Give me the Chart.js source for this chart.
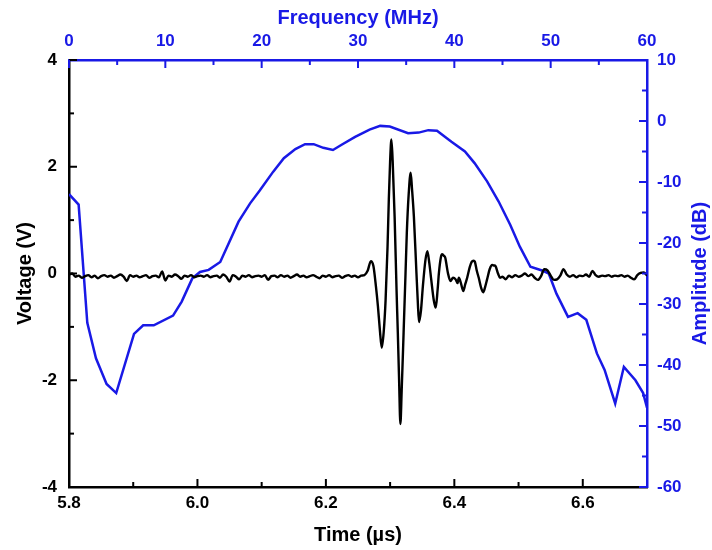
<!DOCTYPE html>
<html>
<head>
<meta charset="utf-8">
<script src="https://cdn.jsdelivr.net/npm/chart.js@4.4.1/dist/chart.umd.min.js"></script>
<style>
  html, body { margin: 0; padding: 0; background: #fff; }
  #wrap { width: 712px; height: 550px; position: relative; }
</style>
</head>
<body>
<div id="wrap"><canvas id="c"></canvas></div>
<script>
// ---------- DATA ----------
// Time-domain waveform (black): time in µs, voltage in V
const baselineTime = [
  5.800,5.805,5.810,5.815,5.820,5.825,5.830,5.835,5.840,5.845,
  5.850,5.855,5.860,5.865,5.870,5.875,5.880,5.885,5.890,5.895,
  5.900,5.905,5.910,5.915,5.920,5.925,5.930,5.935,5.940,5.945,
  5.950,5.955,5.960,5.965,5.970,5.975,5.980,5.985,5.990,5.995,
  6.000,6.005,6.010,6.015,6.020,6.025,6.030,6.035,6.040,6.045,
  6.050,6.055,6.060,6.065,6.070,6.075,6.080,6.085,6.090,6.095,
  6.100,6.105,6.110,6.115,6.120,6.125,6.130,6.135,6.140,6.145,
  6.150,6.155,6.160,6.165,6.170,6.175,6.180,6.185,6.190,6.195,
  6.200,6.205,6.210,6.215,6.220,6.225,6.230,6.235,6.240,6.245,
  6.250,6.255,6.260
];
const baselineVolt = [
  -0.02,0.00,-0.06,-0.04,-0.08,-0.05,-0.03,-0.07,-0.04,-0.09,
  -0.05,-0.03,-0.06,-0.04,-0.08,-0.05,-0.02,-0.06,-0.14,-0.03,
  -0.06,-0.04,-0.07,-0.05,-0.03,-0.08,-0.05,-0.04,-0.07,0.04,
  -0.13,-0.04,-0.06,-0.02,-0.05,-0.10,-0.04,-0.06,-0.03,-0.07,
  -0.05,-0.04,-0.06,-0.03,-0.07,-0.05,-0.04,-0.08,-0.02,-0.06,
  -0.15,-0.03,-0.06,-0.11,-0.04,-0.06,-0.03,-0.07,-0.05,-0.04,
  -0.06,-0.03,-0.12,-0.05,-0.04,-0.07,-0.03,-0.06,-0.04,-0.08,
  -0.05,-0.02,-0.06,-0.04,-0.07,-0.05,-0.03,-0.06,-0.09,-0.04,
  -0.06,-0.03,-0.07,-0.05,-0.04,-0.08,-0.05,-0.03,-0.06,-0.04,
  -0.07,-0.04,-0.03
];
const pulseTime = [
  6.265,6.270,6.274,6.278,6.281,6.284,6.287,6.290,6.293,6.296,
  6.298,6.300,6.302,6.304,6.307,6.310,6.312,6.314,6.316,6.318,
  6.321,6.324,6.326,6.329,6.332,6.334,6.337,6.341,6.343,6.345,
  6.348,6.351,6.355,6.358,6.361,6.364,6.368,6.371,6.374,6.376,
  6.379,6.381,6.384,6.386,6.388,6.390,6.394,6.398,6.402,6.405,
  6.407,6.410,6.414,6.417,6.420,6.424,6.427,6.430,6.432,6.435,
  6.438,6.442,6.445,6.448,6.451,6.455,6.459,6.462,6.464,6.468,
  6.471,6.475
];
const pulseVolt = [
  0.05,0.23,0.14,-0.25,-0.61,-1.05,-1.39,-1.10,-0.49,0.50,
  1.39,2.10,2.51,2.10,1.07,-0.30,-1.11,-2.00,-2.82,-2.20,
  -1.11,0.00,0.76,1.50,1.89,1.60,1.07,0.01,-0.50,-0.91,
  -0.70,-0.24,0.25,0.42,0.20,-0.11,-0.50,-0.64,-0.30,0.01,
  0.30,0.36,0.33,0.29,0.15,0.01,-0.14,-0.08,-0.11,-0.18,
  -0.08,-0.17,-0.33,-0.20,-0.08,0.12,0.22,0.24,0.22,0.05,
  -0.08,-0.28,-0.35,-0.25,-0.11,0.08,0.16,0.15,0.14,0.00,
  -0.08,-0.06
];
const tailTime = [
  6.480,6.485,6.490,6.495,6.500,6.505,6.510,6.515,6.520,6.525,
  6.530,6.535,6.540,6.545,6.550,6.555,6.560,6.565,6.570,6.575,
  6.580,6.585,6.590,6.595,6.600,6.605,6.610,6.615,6.620,6.625,
  6.630,6.635,6.640,6.645,6.650,6.655,6.660,6.665,6.670,6.675,
  6.680,6.685,6.690,6.695,6.700
];
const tailVolt = [
  -0.11,-0.04,-0.07,-0.03,-0.06,-0.04,0.00,-0.05,-0.02,-0.08,
  -0.12,-0.05,0.08,0.06,-0.04,-0.12,-0.11,-0.04,0.08,-0.02,
  -0.06,-0.03,-0.07,-0.04,-0.05,-0.02,-0.06,0.05,-0.03,-0.06,
  -0.04,-0.05,-0.03,-0.06,-0.04,-0.05,-0.03,-0.06,-0.04,-0.08,
  -0.11,-0.03,0.01,0.02,-0.04
];

// Frequency spectrum (blue): frequency in MHz, amplitude in dB
const freqMHz = [
  0,1.0,1.9,2.8,3.9,4.9,6.75,7.7,8.8,10.8,
  11.7,12.8,13.6,14.5,15.7,17.6,18.8,19.8,21.2,22.3,
  23.5,24.5,25.4,26.4,27.4,28.3,29.7,31.2,32.3,33.3,
  35.2,36.3,37.3,38.2,39.7,41.1,42.1,43.4,44.6,45.8,
  46.8,47.9,49.1,49.8,50.6,51.8,52.8,53.7,54.8,55.6,
  56.7,57.6,58.8,59.6,60
];
const ampDb = [
  -12.0,-13.7,-33.1,-38.9,-43.1,-44.6,-34.9,-33.5,-33.5,-31.9,
  -29.6,-25.8,-24.75,-24.4,-23.1,-16.5,-13.5,-11.4,-8.3,-6.1,
  -4.6,-3.8,-3.8,-4.4,-4.75,-3.9,-2.6,-1.4,-0.8,-0.9,
  -2.0,-1.9,-1.5,-1.6,-3.4,-5.0,-6.9,-9.9,-13.2,-17.0,
  -20.6,-23.9,-24.5,-25.0,-28.3,-32.1,-31.5,-32.6,-38.1,-40.8,
  -46.3,-40.3,-42.5,-44.6,-47.0
];

// Tick labels
const timeTicks = [5.8, 6.0, 6.2, 6.4, 6.6];
const timeMinorTicks = [5.9, 6.1, 6.3, 6.5];
const voltTicks = [-4, -2, 0, 2, 4];
const voltMinorTicks = [-3, -1, 1, 3];
const freqTicks = [0, 10, 20, 30, 40, 50, 60];
const freqMinorTicks = [5, 15, 25, 35, 45, 55];
const dbTicks = [-60, -50, -40, -30, -20, -10, 0, 10];
const dbMinorTicks = [-55, -45, -35, -25, -15, -5, 5];

// ---------- STYLE ----------
const BLACK = '#000000';
const BLUE = 'rgb(25,25,230)';
const FONT = "'Liberation Sans', Arial, sans-serif";
const tickFont = { family: FONT, size: 17, weight: 'bold' };
const titleFont = { family: FONT, size: 20, weight: 'bold' };

const waveTime = baselineTime.concat(pulseTime, tailTime);
const waveVolt = baselineVolt.concat(pulseVolt, tailVolt);
const waveData = waveTime.map((t, i) => ({ x: t, y: waveVolt[i] }));
const specData = freqMHz.map((f, i) => ({ x: f, y: ampDb[i] }));

function setTicks(values) {
  return function (scale) { scale.ticks = values.map(v => ({ value: v })); };
}

const tickSpecs = [
  { id: 'x',  major: timeTicks, minor: timeMinorTicks, color: BLACK, side: 'bottom' },
  { id: 'y',  major: voltTicks, minor: voltMinorTicks, color: BLACK, side: 'left' },
  { id: 'x2', major: freqTicks, minor: freqMinorTicks, color: BLUE,  side: 'top' },
  { id: 'y2', major: dbTicks,   minor: dbMinorTicks,   color: BLUE,  side: 'right' }
];

const inwardTicks = {
  id: 'inwardTicks',
  afterDraw(chart) {
    const ctx = chart.ctx, a = chart.chartArea;
    ctx.save();
    ctx.lineWidth = 2;
    tickSpecs.forEach(s => {
      const sc = chart.scales[s.id];
      ctx.strokeStyle = s.color;
      const draw = (v, len) => {
        const p = sc.getPixelForValue(v);
        ctx.beginPath();
        if (s.side === 'bottom') { ctx.moveTo(p, a.bottom); ctx.lineTo(p, a.bottom - len); }
        if (s.side === 'top')    { ctx.moveTo(p, a.top);    ctx.lineTo(p, a.top + len); }
        if (s.side === 'left')   { ctx.moveTo(a.left, p);   ctx.lineTo(a.left + len, p); }
        if (s.side === 'right')  { ctx.moveTo(a.right, p);  ctx.lineTo(a.right - len, p); }
        ctx.stroke();
      };
      s.major.forEach(v => draw(v, 8));
      s.minor.forEach(v => draw(v, 5));
    });
    // right axis title, reading bottom-to-top
    ctx.fillStyle = BLUE;
    ctx.font = 'bold 20px ' + FONT;
    ctx.textAlign = 'center';
    ctx.textBaseline = 'middle';
    ctx.translate(700, (a.top + a.bottom) / 2);
    ctx.rotate(-Math.PI / 2);
    ctx.fillText('Amplitude (dB)', 0, 0);
    ctx.restore();
  }
};

new Chart(document.getElementById('c'), {
  type: 'scatter',
  data: {
    datasets: [
      {
        label: 'Voltage',
        data: waveData,
        xAxisID: 'x', yAxisID: 'y',
        showLine: true,
        borderColor: BLACK,
        borderWidth: 2.4,
        pointRadius: 0,
        cubicInterpolationMode: 'monotone',
        order: 1
      },
      {
        label: 'Amplitude',
        data: specData,
        xAxisID: 'x2', yAxisID: 'y2',
        showLine: true,
        borderColor: BLUE,
        borderWidth: 2.5,
        pointRadius: 0,
        tension: 0,
        order: 2
      }
    ]
  },
  options: {
    responsive: true,
    maintainAspectRatio: false,
    animation: false,
    layout: { padding: 0 },
    plugins: { legend: { display: false }, tooltip: { enabled: false } },
    scales: {
      x: {
        type: 'linear', position: 'bottom', min: 5.8, max: 6.7,
        afterBuildTicks: setTicks(timeTicks),
        afterFit(s) { s.height = 63; },
        grid: { display: false, drawTicks: false },
        border: { display: true, color: BLACK, width: 2.5 },
        ticks: { color: BLACK, font: tickFont, padding: 6, maxRotation: 0, autoSkip: false,
                 callback: v => Number(v).toFixed(1) },
        title: { display: true, text: 'Time (µs)', color: BLACK, font: titleFont, padding: { top: 0, bottom: 3 } }
      },
      y: {
        type: 'linear', position: 'left', min: -4, max: 4,
        afterBuildTicks: setTicks(voltTicks),
        afterFit(s) { s.width = 69; },
        grid: { display: false, drawTicks: false },
        border: { display: true, color: BLACK, width: 2.5 },
        ticks: { color: BLACK, font: tickFont, padding: 12, autoSkip: false },
        title: { display: true, text: 'Voltage (V)', color: BLACK, font: titleFont, padding: { top: 13, bottom: 0 } }
      },
      x2: {
        type: 'linear', position: 'top', min: 0, max: 60,
        afterBuildTicks: setTicks(freqTicks),
        afterFit(s) { s.height = 60; },
        grid: { display: false, drawTicks: false },
        border: { display: true, color: BLUE, width: 2.5 },
        ticks: { color: BLUE, font: tickFont, padding: 8, maxRotation: 0, autoSkip: false },
        title: { display: true, text: 'Frequency (MHz)', color: BLUE, font: titleFont, padding: { top: 6, bottom: 0 } }
      },
      y2: {
        type: 'linear', position: 'right', min: -60, max: 10,
        afterBuildTicks: setTicks(dbTicks),
        afterFit(s) { s.width = 65; },
        grid: { display: false, drawTicks: false },
        border: { display: true, color: BLUE, width: 2.5 },
        ticks: { color: BLUE, font: tickFont, padding: 10, autoSkip: false },
        title: { display: false }
      }
    }
  },
  plugins: [inwardTicks]
});
</script>
</body>
</html>
